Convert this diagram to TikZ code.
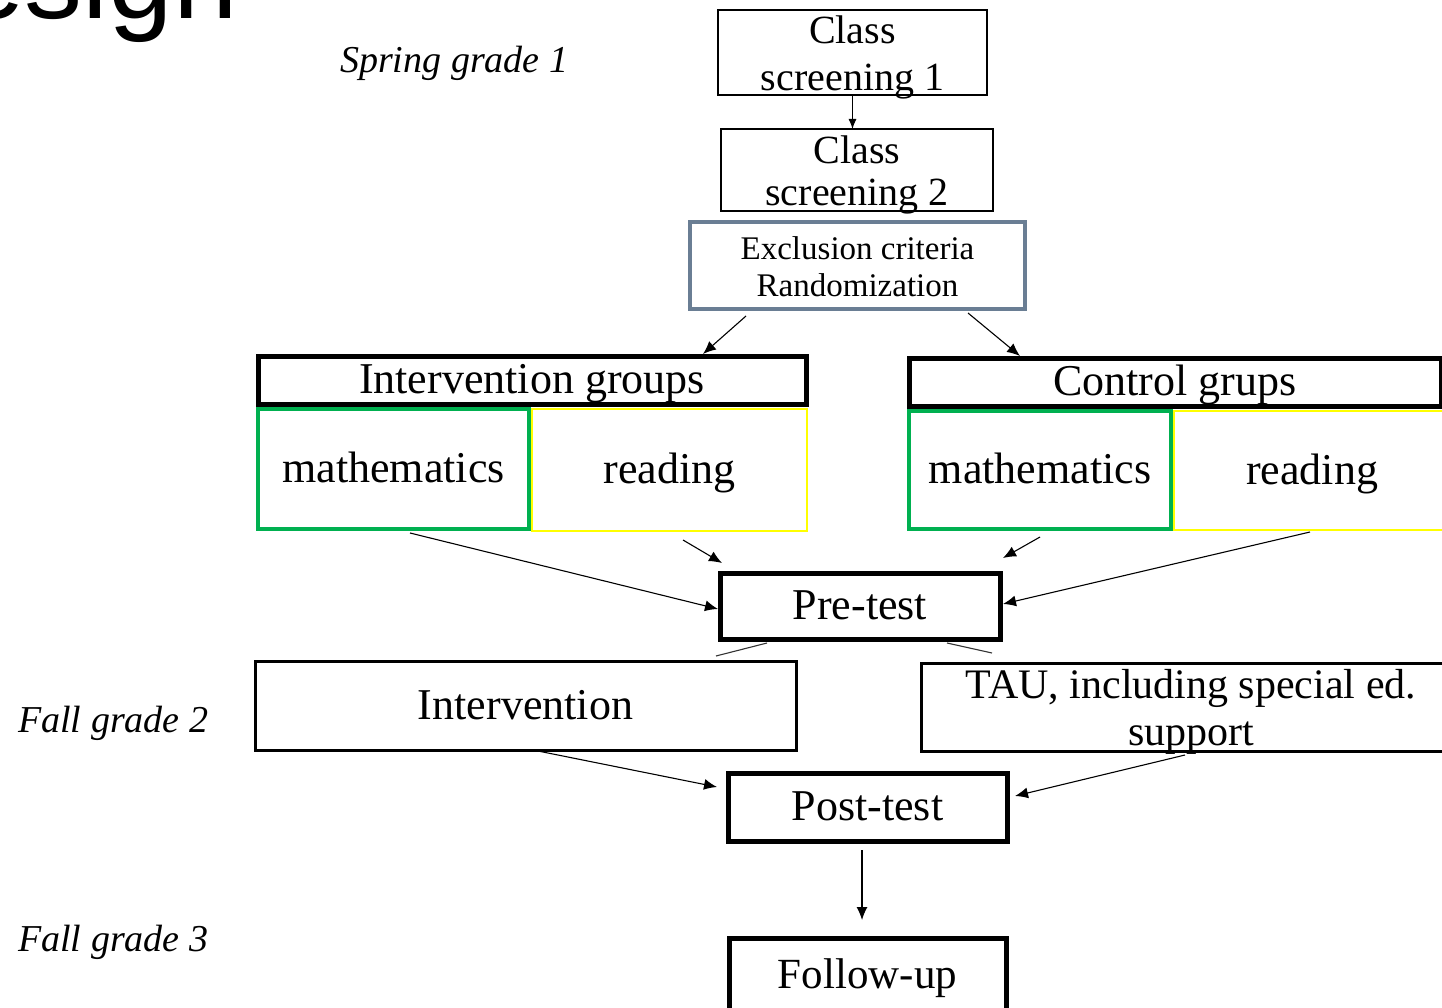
\documentclass[tikz,border=0pt]{standalone}
\usepackage{fontspec}
\setmainfont{Liberation Serif}
\newfontfamily\titlefont{Liberation Sans}
\usetikzlibrary{arrows.meta,calc}
\definecolor{slateb}{RGB}{106,126,148}
\definecolor{grn}{RGB}{0,176,80}
\definecolor{ylw}{RGB}{255,255,0}
\begin{document}
\begin{tikzpicture}[x=1pt,y=-1pt,
  bx/.style={draw=black, inner sep=0pt, outer sep=0pt},
  thinbox/.style={bx, line width=2pt},
  midbox/.style={bx, line width=3pt},
  thickbox/.style={bx, line width=5pt},
  exclbox/.style={bx, draw=slateb, line width=4pt},
  mathbox/.style={bx, draw=grn, line width=4pt},
  readbox/.style={bx, draw=ylw, line width=2pt},
  intext/.style={text height=27pt, text depth=0pt},
  big/.style={font=\fontsize{44}{50}\selectfont},
  freetext/.style={inner sep=0pt, outer sep=0pt, align=center},
  period/.style={inner sep=0pt, anchor=base west, font=\itshape\fontsize{38}{44}\selectfont},
  arr/.style={draw=black, line width=1.1pt, -{Latex[length=13pt,width=11pt]}},
  arrsmall/.style={draw=black, line width=1.1pt, -{Latex[length=10pt,width=8pt]}},
  ln/.style={draw=black!80, line width=1.1pt}]
\useasboundingbox (0,0) rectangle (1442,1008);
\clip (0,0) rectangle (1442,1008);

% title fragment
\node[anchor=base east, inner sep=0pt, font=\titlefont\fontsize{116}{120}\selectfont] (title) at (238,19) {Design};

% period labels
\node[period] (spring) at (340,73) {Spring grade 1};
\node[period] (fall2) at (18,732) {Fall grade 2};
\node[period] (fall3) at (18,951) {Fall grade 3};

% screening boxes
\node[thinbox, minimum width=269pt, minimum height=85pt] (cs1) at (852.5,52.5) {};
\node[freetext, anchor=north, font=\fontsize{40}{47}\selectfont] (cs1t) at (852.5,15.4) {Class\\screening 1};
\node[thinbox, minimum width=272pt, minimum height=82pt] (cs2) at (857,170) {};
\node[freetext, anchor=north, font=\fontsize{40}{42}\selectfont] (cs2t) at (857,136) {Class\\screening 2};

% exclusion
\node[exclbox, minimum width=335pt, minimum height=87pt] (excl) at (857.5,265.5) {};
\node[freetext, anchor=north, font=\fontsize{33}{37}\selectfont] (exclt) at (857.5,236.5) {Exclusion criteria\\Randomization};

% groups
\node[thickbox, big, intext, minimum width=548pt, minimum height=48pt] (ig) at (532,380) {Intervention groups};
\node[mathbox, big, intext, minimum width=271pt, minimum height=120pt] (im) at (393.5,469) {mathematics};
\node[readbox, big, intext, minimum width=275pt, minimum height=122pt] (ir) at (669.5,470) {reading};

\node[thickbox, big, intext, minimum width=532pt, minimum height=48pt] (cg) at (1175,382) {Control grups};
\node[mathbox, big, intext, minimum width=262pt, minimum height=118pt] (cm) at (1040,470) {mathematics};
\node[readbox, big, intext, minimum width=276pt, minimum height=119pt] (cr) at (1312,470.5) {reading};

% tests and treatments
\node[thickbox, big, intext, minimum width=280pt, minimum height=66pt] (pre) at (860,606) {Pre-test};
\node[midbox, big, intext, minimum width=541pt, minimum height=89pt] (intv) at (525.5,705.5) {Intervention};
\node[midbox, minimum width=540pt, minimum height=88pt] (tau) at (1191,707) {};
\node[freetext, anchor=north, font=\fontsize{42}{47}\selectfont] (taut) at (1191,669.3) {TAU, including special ed.\\support};
\node[thickbox, big, intext, minimum width=279pt, minimum height=68pt] (post) at (867.5,807) {Post-test};
\node[thickbox, intext, font=\fontsize{43}{50}\selectfont, minimum width=277pt, minimum height=74pt] (fu) at (867.5,975) {Follow-up};

% connectors
\draw[arrsmall] (cs1.south) -- (cs1.south |- cs2.north);
\draw[arr] ($(excl.south)+(-111.5,7)$) -- ($(ig.north)+(171,-2)$);
\draw[arr] ($(excl.south)+(110.5,4)$) -- ($(cg.north)+(-155,-2)$);
\draw[arr] ($(im.south)+(16.5,4)$) -- ($(pre.west)+(-2,3)$);
\draw[arr] ($(ir.south)+(13.5,9)$) -- ($(pre.north west)+(2,-10)$);
\draw[arr] ($(cm.south)+(0,8)$) -- ($(pre.north east)+(3,-15)$);
\draw[arr] ($(cr.south)+(-2,2)$) -- ($(pre.east)+(3,-2)$);
\draw[ln] ($(pre.south)+(-93,4)$) -- ($(intv.north)+(190.5,-5)$);
\draw[ln] ($(pre.south)+(87,4)$) -- ($(tau.north)+(-199,-10)$);
\draw[arr] ($(intv.south)+(12.5,1)$) -- ($(post.west)+(-11,-20)$);
\draw[arr] ($(tau.south)+(-6,4)$) -- ($(post.east)+(8,-11)$);
\draw[arr] ($(post.south)+(-5.5,9)$) -- ($(fu.north)+(-5.5,-18)$);
\end{tikzpicture}
\end{document}
